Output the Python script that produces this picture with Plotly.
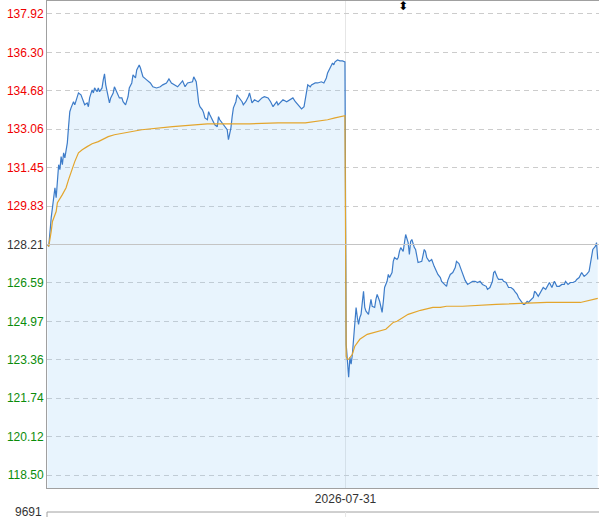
import plotly.graph_objects as go

prev_close = 128.21
date_label = "2026-07-31"
volume_label = "9691"

y_ticks = [137.92, 136.30, 134.68, 133.06, 131.45, 129.83, 128.21,
           126.59, 124.97, 123.36, 121.74, 120.12, 118.50]

# minute index (0..240 first session, 241.. second session)
price_minutes = [
    0, 1, 3, 4, 6, 7, 8, 9, 10, 11, 12, 13, 14, 15, 16, 17, 18, 19, 20, 21, 22, 24, 25, 27, 29, 30,
    32, 33, 34, 36, 37, 38, 40, 41, 42, 44, 45, 46, 47, 49, 50, 51, 53, 54, 56, 57, 58, 60, 61, 63,
    65, 66, 68, 69, 71, 72, 74, 75, 76, 77, 80, 83, 85, 88, 91, 93, 96, 98, 100, 103, 105, 109, 111,
    113, 117, 118, 120, 121, 122, 123, 125, 126, 127, 129, 130, 131, 133, 134, 135, 137, 138, 139,
    141, 142, 143, 145, 146, 147, 148, 149, 150, 152, 153, 154, 157, 158, 160, 162, 163, 165, 167,
    170, 173, 175, 178, 180, 182, 183, 185, 186, 188, 190, 193, 196, 198, 200, 202, 204, 205, 207,
    208, 209, 210, 212, 213, 216, 218, 221, 223, 225, 226, 228, 230, 231, 232, 234, 236, 238, 240,
    241, 242, 243, 244, 245, 246, 247, 248, 249, 250, 251, 252, 253, 254, 255, 256, 257, 259, 260,
    261, 262, 264, 265, 266, 268, 269, 270, 271, 272, 274, 275, 276, 278, 279, 280, 282, 283, 284,
    285, 287, 288, 289, 291, 292, 293, 294, 296, 297, 299, 302, 304, 305, 306, 308, 310, 312, 315,
    317, 318, 320, 322, 323, 325, 327, 329, 330, 332, 334, 335, 337, 339, 343, 345, 347, 349, 351,
    354, 355, 357, 359, 360, 361, 363, 364, 367, 368, 370, 372, 374, 376, 377, 379, 380, 382, 384,
    385, 387, 388, 390, 392, 393, 394, 396, 398, 400, 402, 404, 405, 407, 408, 409, 411, 413, 415,
    417, 418, 420, 422, 424, 426, 427, 429, 431, 433, 435, 437, 439, 440, 442, 443, 444,
]
price_values = [
    128.21, 128.13, 129.34, 129.76, 130.60, 130.18, 131.15, 131.57, 131.36, 131.91, 131.57, 132.07,
    131.86, 132.12, 132.49, 133.17, 133.80, 133.96, 134.09, 134.22, 134.09, 134.51, 134.59, 134.51,
    134.22, 134.09, 134.17, 134.01, 134.38, 134.72, 134.59, 134.80, 134.64, 134.80, 134.64, 134.80,
    135.14, 135.39, 134.93, 134.38, 134.17, 134.38, 134.59, 134.85, 134.59, 134.43, 134.38, 134.38,
    134.22, 134.09, 134.43, 134.80, 135.01, 135.35, 135.22, 135.56, 135.77, 135.64, 135.43, 135.27,
    135.14, 135.01, 134.85, 134.80, 134.85, 134.93, 135.01, 135.18, 135.01, 134.93, 134.85, 135.10,
    134.85, 135.01, 135.06, 135.27, 135.06, 134.64, 134.17, 134.01, 133.88, 133.75, 133.54, 133.46,
    133.80, 133.67, 133.46, 133.38, 133.25, 133.17, 133.59, 133.46, 133.33, 133.25, 133.17, 133.04,
    132.62, 132.83, 133.12, 133.59, 133.96, 134.22, 134.51, 134.43, 134.22, 134.09, 134.22, 134.43,
    134.59, 134.17, 134.30, 134.22, 134.38, 134.43, 134.38, 134.22, 134.01, 134.09, 134.22, 134.09,
    134.22, 134.30, 134.22, 134.30, 134.38, 134.22, 134.09, 133.96, 133.92, 134.01, 134.38, 134.64,
    134.93, 134.85, 134.93, 135.01, 135.01, 135.06, 135.01, 135.22, 135.43, 135.64, 135.85, 135.77,
    135.90, 135.98, 135.94, 135.94, 135.90,
    124.01, 123.46, 122.62, 123.46, 123.17, 123.59, 124.14, 124.85, 125.56, 125.14, 124.85, 125.14,
    125.27, 125.77, 126.24, 125.56, 125.40, 125.27, 125.56, 125.90, 125.61, 125.56, 125.90, 126.11,
    125.82, 125.56, 125.35, 125.82, 126.40, 126.66, 126.95, 126.82, 127.03, 127.50, 127.66, 127.58,
    127.66, 127.92, 128.08, 127.92, 128.42, 128.63, 128.29, 127.79, 128.34, 128.42, 128.08, 128.00,
    127.45, 127.50, 128.00, 127.92, 127.66, 127.50, 127.58, 127.29, 126.95, 126.82, 126.66, 126.53,
    126.45, 126.70, 126.95, 127.03, 127.24, 127.50, 127.41, 127.12, 126.95, 126.70, 126.53, 126.66,
    126.66, 126.61, 126.66, 126.53, 126.45, 126.32, 126.40, 126.66, 127.03, 127.08, 126.82, 126.74,
    126.74, 126.66, 126.61, 126.40, 126.40, 126.32, 126.24, 126.11, 125.98, 125.82, 125.69, 125.69,
    125.82, 125.77, 125.90, 125.98, 126.24, 126.19, 126.03, 126.24, 126.40, 126.32, 126.53, 126.61,
    126.40, 126.53, 126.66, 126.45, 126.45, 126.53, 126.53, 126.66, 126.53, 126.61, 126.61, 126.66,
    126.74, 126.82, 127.03, 126.87, 126.95, 127.08, 127.71, 128.00, 128.13, 128.29, 127.58,
]

avg_minutes = [
    0, 1, 3, 4, 7, 8, 12, 15, 17, 20, 22, 25, 28, 32, 36, 41, 45, 49, 54, 63, 69, 76, 101, 119, 129,
    163, 186, 208, 226, 232, 239, 240,
    241, 242, 243, 246, 248, 252, 258, 263, 273, 279, 282, 291, 301, 311, 317, 322, 335, 362, 384,
    403, 430, 440, 444,
]
avg_values = [
    128.21, 128.13, 128.76, 129.18, 129.60, 129.97, 130.31, 130.60, 130.94, 131.44, 131.70, 132.07,
    132.20, 132.33, 132.45, 132.54, 132.66, 132.75, 132.83, 132.91, 132.96, 133.04, 133.17, 133.25,
    133.29, 133.29, 133.33, 133.33, 133.46, 133.54, 133.63, 133.63,
    123.50, 123.38, 123.38, 123.59, 123.93, 124.22, 124.43, 124.51, 124.64, 124.93, 124.98, 125.27,
    125.44, 125.56, 125.56, 125.61, 125.61, 125.69, 125.73, 125.77, 125.77, 125.90, 125.94,
]

session_break = 240.5
x_range = [-0.4, 445]
y_range = [117.96, 138.46]

RED = "#f00000"
GREEN = "#0a8c0a"
DARK = "#333333"


def tick_html(v):
    col = RED if v > prev_close else (GREEN if v < prev_close else DARK)
    return f"<span style='color:{col}'>{v:.2f}</span>"


fig = go.Figure()
fig.add_trace(go.Scatter(
    x=price_minutes, y=price_values, mode="lines",
    line=dict(color="#3d7cc9", width=1.2),
    fill="tozeroy", fillcolor="rgba(150,205,245,0.22)",
    hoverinfo="skip", showlegend=False,
))
fig.add_trace(go.Scatter(
    x=avg_minutes, y=avg_values, mode="lines",
    line=dict(color="#e3a52c", width=1.2),
    hoverinfo="skip", showlegend=False,
))

H = 517
main_bottom = (H - 488) / 516
vol_top = (H - 512) / 516

fig.update_layout(
    width=599, height=517,
    margin=dict(l=47, r=0, t=1, b=0, autoexpand=False),
    paper_bgcolor="white", plot_bgcolor="white",
    font=dict(family="Liberation Sans, Arial, sans-serif", size=12, color=DARK),
    xaxis=dict(
        range=x_range, showline=True, mirror=True, linecolor="#a0a0a0", linewidth=1,
        tickvals=[session_break], ticktext=[date_label], ticks="",
        showgrid=True, gridcolor="#e6e6e6", gridwidth=1,
        zeroline=False, tickfont=dict(size=12, color=DARK), automargin=False,
    ),
    yaxis=dict(
        domain=[main_bottom, 1], range=y_range, showline=True, linecolor="#a0a0a0",
        tickvals=y_ticks, ticktext=[tick_html(v) for v in y_ticks], ticks="",
        showgrid=True, gridcolor="#cccccc", griddash="5px,4px", gridwidth=1,
        zeroline=False, tickfont=dict(size=12), automargin=False,
    ),
    shapes=[
        dict(type="line", xref="paper", yref="y", x0=0, x1=1, y0=prev_close, y1=prev_close,
             line=dict(color="#c4c4c4", width=1)),
        dict(type="line", xref="paper", yref="paper", x0=0, x1=1, y0=vol_top, y1=vol_top,
             line=dict(color="#a0a0a0", width=1)),
        dict(type="line", xref="paper", yref="paper", x0=0, x1=0, y0=0, y1=vol_top,
             line=dict(color="#a0a0a0", width=1)),
        dict(type="line", xref="x", yref="paper", x0=session_break, x1=session_break, y0=0, y1=vol_top,
             line=dict(color="#e6e6e6", width=1)),
    ],
    annotations=[
        dict(text=volume_label, xref="paper", yref="paper", x=0, y=vol_top, xanchor="right",
             yanchor="middle", xshift=-3, showarrow=False, font=dict(size=12, color=DARK)),
        dict(text="⬍", xref="paper", yref="paper", x=(403 - 47) / 552, y=(H - 6) / 516,
             xanchor="center", yanchor="middle", showarrow=False,
             font=dict(family="DejaVu Sans", size=12, color="#000000")),
    ],
)

fig.write_html("out.html", config={"displayModeBar": False},
               post_script="document.body.style.margin='0';document.body.style.padding='0';")
